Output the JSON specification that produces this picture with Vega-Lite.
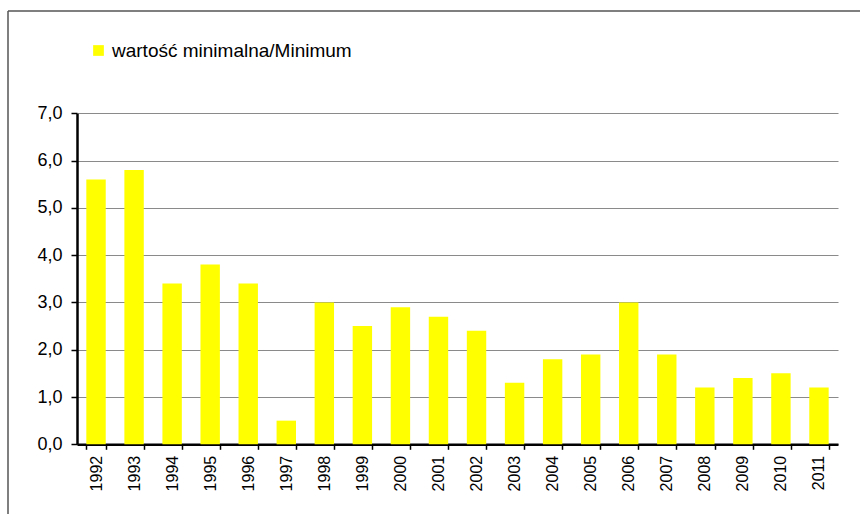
{
  "$schema": "https://vega.github.io/schema/vega-lite/v6.json",
  "autosize": {"type": "none"},
  "width": 852,
  "height": 503,
  "padding": {"left": 8, "top": 11, "right": 0, "bottom": 0},
  "background": "white",
  "config": {
    "font": "Liberation Sans",
    "locale": {"number": {"decimal": ",", "thousands": " ", "grouping": [3], "currency": ["", " zł"]}},
    "view": {"stroke": "#555555", "strokeWidth": 1.5, "strokeDash": [852, 1355, 503, 0]}
  },
  "data": {
    "values": [
      {"rok": "1992", "wartosc": 5.6, "seria": "wartość minimalna/Minimum"},
      {"rok": "1993", "wartosc": 5.8, "seria": "wartość minimalna/Minimum"},
      {"rok": "1994", "wartosc": 3.4, "seria": "wartość minimalna/Minimum"},
      {"rok": "1995", "wartosc": 3.8, "seria": "wartość minimalna/Minimum"},
      {"rok": "1996", "wartosc": 3.4, "seria": "wartość minimalna/Minimum"},
      {"rok": "1997", "wartosc": 0.5, "seria": "wartość minimalna/Minimum"},
      {"rok": "1998", "wartosc": 3.0, "seria": "wartość minimalna/Minimum"},
      {"rok": "1999", "wartosc": 2.5, "seria": "wartość minimalna/Minimum"},
      {"rok": "2000", "wartosc": 2.9, "seria": "wartość minimalna/Minimum"},
      {"rok": "2001", "wartosc": 2.7, "seria": "wartość minimalna/Minimum"},
      {"rok": "2002", "wartosc": 2.4, "seria": "wartość minimalna/Minimum"},
      {"rok": "2003", "wartosc": 1.3, "seria": "wartość minimalna/Minimum"},
      {"rok": "2004", "wartosc": 1.8, "seria": "wartość minimalna/Minimum"},
      {"rok": "2005", "wartosc": 1.9, "seria": "wartość minimalna/Minimum"},
      {"rok": "2006", "wartosc": 3.0, "seria": "wartość minimalna/Minimum"},
      {"rok": "2007", "wartosc": 1.9, "seria": "wartość minimalna/Minimum"},
      {"rok": "2008", "wartosc": 1.2, "seria": "wartość minimalna/Minimum"},
      {"rok": "2009", "wartosc": 1.4, "seria": "wartość minimalna/Minimum"},
      {"rok": "2010", "wartosc": 1.5, "seria": "wartość minimalna/Minimum"},
      {"rok": "2011", "wartosc": 1.2, "seria": "wartość minimalna/Minimum"}
    ]
  },
  "mark": {"type": "bar"},
  "encoding": {
    "x": {
      "field": "rok",
      "type": "nominal",
      "sort": null,
      "scale": {"range": [69, 830], "paddingInner": 0.49, "paddingOuter": 0.245},
      "axis": {
        "title": null,
        "offset": -69.7,
        "labelAngle": 270,
        "labelFontSize": 16,
        "labelColor": "black",
        "labelPadding": 6,
        "tickBand": "extent",
        "tickSize": 5,
        "tickColor": "black",
        "tickWidth": 1.5,
        "domainColor": "black",
        "domainWidth": 2.5,
        "grid": false
      }
    },
    "y": {
      "field": "wartosc",
      "type": "quantitative",
      "scale": {"domain": [0, 7], "range": [433.3, 102.3], "nice": false},
      "axis": {
        "title": null,
        "offset": -69,
        "values": [0, 1, 2, 3, 4, 5, 6, 7],
        "format": ".1f",
        "labelFontSize": 18,
        "labelColor": "black",
        "labelPadding": 9,
        "tickSize": 6,
        "tickColor": "black",
        "tickWidth": 1.5,
        "domainColor": "black",
        "domainWidth": 2.5,
        "grid": true,
        "gridColor": "#8a8a8a",
        "gridWidth": 1.2
      }
    },
    "color": {
      "field": "seria",
      "type": "nominal",
      "scale": {"range": ["#FFFF00"]},
      "legend": {
        "title": null,
        "orient": "none",
        "legendX": 81,
        "legendY": 30,
        "symbolType": "square",
        "symbolSize": 115,
        "symbolStrokeWidth": 0,
        "labelFontSize": 19,
        "labelColor": "black",
        "labelOffset": 4,
        "labelLimit": 0
      }
    }
  }
}
